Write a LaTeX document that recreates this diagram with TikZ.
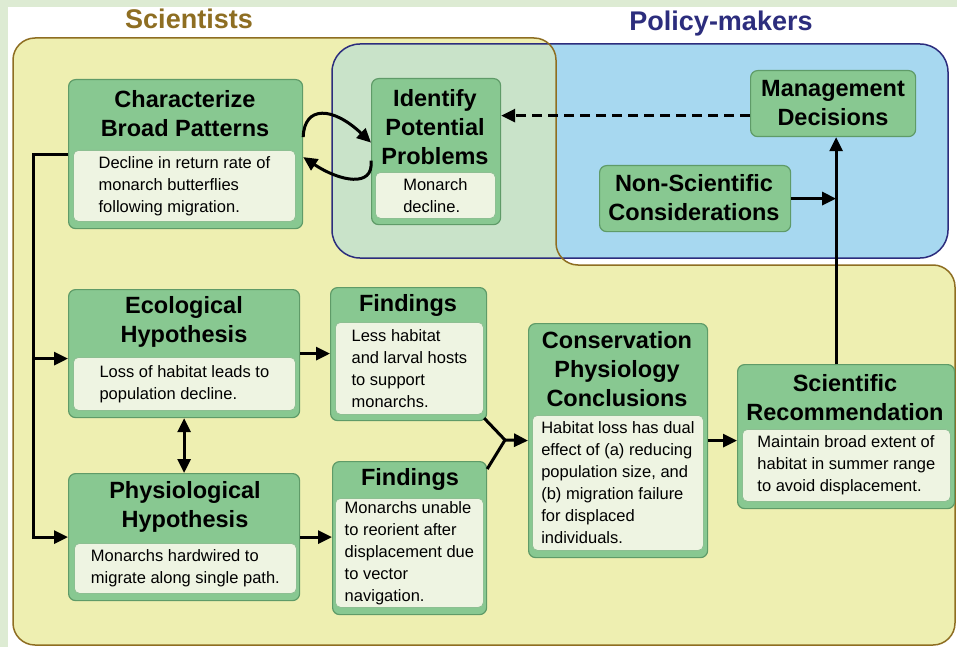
\documentclass[tikz,border=0pt]{standalone}
\usepackage{fontspec}
\setmainfont{Liberation Sans}
\usepackage{tikz}
\usepackage{xcolor}
\usetikzlibrary{arrows.meta}

\definecolor{bgband}{HTML}{DDEBD3}
\definecolor{sciyellow}{HTML}{EEEFB1}
\definecolor{scibrown}{HTML}{8E6E22}
\definecolor{polblue}{HTML}{A7D8F0}
\definecolor{polnavy}{HTML}{2C2D7D}
\definecolor{overlap}{HTML}{C9E3C9}
\definecolor{boxgreen}{HTML}{88C891}
\definecolor{boxedge}{HTML}{5F9B68}
\definecolor{notefill}{HTML}{EEF4E2}
\definecolor{noteedge}{HTML}{8DBF92}

\newcommand{\sciregion}{(13,645) -- (13,38) -- (556,38) -- (556,265) -- (955,265) -- (955,645) -- cycle}
\newcommand{\polregion}{(332,44) rectangle (948,258)}

\begin{document}
\begin{tikzpicture}[x=1pt, y=-1pt, >={Triangle[length=14pt, width=13pt]},
            box/.style={draw=boxedge, fill=boxgreen, line width=1.2pt, rounded corners=7pt, anchor=north west, inner sep=0pt},
            note/.style={draw=noteedge, fill=notefill, line width=0.8pt, rounded corners=5pt, anchor=north west, inner sep=0pt, align=left, font=\fontsize{16.5pt}{22pt}\selectfont},
            title/.style={align=center, inner sep=0pt, font=\fontsize{23.5pt}{29pt}\selectfont\bfseries},
            group/.style={inner sep=0pt, font=\fontsize{27pt}{32pt}\selectfont\bfseries},
            link/.style={line width=3pt}]
            \useasboundingbox (0,0) rectangle (957,647);
            \fill[white] (0,0) rectangle (957,647);
            \fill[bgband] (0,0) rectangle (957,7);
            \fill[bgband] (0,0) rectangle (8,647);

            % the two groups
            \fill[sciyellow, rounded corners=22pt] \sciregion;
            \fill[polblue, rounded corners=28pt] \polregion;
            \begin{scope}
                \clip[rounded corners=22pt] \sciregion;
                \fill[overlap, rounded corners=28pt] \polregion;
            \end{scope}
            \draw[polnavy, line width=1.5pt, rounded corners=28pt] \polregion;
            \draw[scibrown, line width=1.5pt, rounded corners=22pt] \sciregion;
            \node[group, text=scibrown] (SCI) at (189,19) {Scientists};
            \node[group, text=polnavy] (POL) at (721,24) {Policy-makers};

            % boxes
            \node[box, minimum width=234pt, minimum height=149pt] (CBP) at (68,79) {};
            \node[title] (CBPt) at (185,114) {Characterize\\Broad Patterns};
            \node[note, minimum width=222pt, minimum height=71pt] (CBPn) at (73,150) {Decline in return rate of\\monarch butterflies\\following migration.};

            \node[box, minimum width=129pt, minimum height=146pt] (IPP) at (371,78) {};
            \node[title] (IPPt) at (435,127) {Identify\\Potential\\Problems};
            \node[note, minimum width=120pt, minimum height=46pt] (IPPn) at (375,172) {Monarch\\decline.};

            \node[box, minimum width=165pt, minimum height=66pt] (MD) at (750,70) {};
            \node[title] (MDt) at (833,103) {Management\\Decisions};

            \node[box, minimum width=191pt, minimum height=66pt] (NSC) at (599,165) {};
            \node[title] (NSCt) at (694,198) {Non-Scientific\\Considerations};

            \node[box, minimum width=231pt, minimum height=128pt] (EH) at (68,289) {};
            \node[title] (EHt) at (184,322) {Ecological\\Hypothesis};
            \node[note, minimum width=222pt, minimum height=53pt] (EHn) at (73,357) {Loss of habitat leads to\\population decline.};

            \node[box, minimum width=231pt, minimum height=127pt] (PH) at (68,473) {};
            \node[title] (PHt) at (185,507) {Physiological\\Hypothesis};
            \node[note, minimum width=222pt, minimum height=50pt] (PHn) at (74,543) {Monarchs hardwired to\\migrate along single path.};

            \node[box, minimum width=156pt, minimum height=133pt] (F1) at (330,287) {};
            \node[title] (F1t) at (408,305) {Findings};
            \node[note, minimum width=148pt, minimum height=92pt] (F1n) at (335,322) {Less habitat\\and larval hosts\\to support\\monarchs.};

            \node[box, minimum width=154pt, minimum height=153pt] (F2) at (332,461) {};
            \node[title] (F2t) at (410,479) {Findings};
            \node[note, minimum width=148pt, minimum height=109pt] (F2n) at (335,498) {Monarchs unable\\to reorient after\\displacement due\\to vector\\navigation.};

            \node[box, minimum width=179pt, minimum height=234pt] (CPC) at (528,323) {};
            \node[title] (CPCt) at (617,369) {Conservation\\Physiology\\Conclusions};
            \node[note, minimum width=171pt, minimum height=135pt] (CPCn) at (532,415) {Habitat loss has dual\\effect of (a) reducing\\population size, and\\(b) migration failure\\for displaced\\individuals.};

            \node[box, minimum width=217pt, minimum height=144pt] (SR) at (737,364) {};
            \node[title] (SRt) at (845,398) {Scientific\\Recommendation};
            \node[note, minimum width=208pt, minimum height=72pt] (SRn) at (742,429) {Maintain broad extent of\\habitat in summer range\\to avoid displacement.};

            % connectors
            \draw[link, ->] ([yshift=17pt]CBP.east) .. controls +(1,-32) and +(-38,-36) .. ([yshift=9pt]IPP.west);
            \draw[link, ->] ([yshift=-9pt]IPP.west) .. controls +(3,28) and +(36,24) .. ([yshift=-3pt]CBP.east);
            \draw[link, ->, dash pattern=on 10pt off 6pt] ([yshift=-12pt]MD.west) -- ([yshift=-12pt]MD.west -| IPP.east);

            \draw[link, ->] (CBP.west) -- ++(-35,0) |- (PH.west);
            \draw[link, ->] ([yshift=-5pt]EH.west) ++(-35,0) -- ([yshift=-5pt]EH.west);
            \draw[link, <->] (EH.south) -- (PH.north);
            \draw[link, ->] (EH.east) -- (EH.east -| F1.west);
            \draw[link, ->] (PH.east) -- (PH.east -| F2.west);

            \coordinate (J) at (505,440);
            \draw[link] ([shift={(-3pt,3pt)}]F1.south east) -- (J) -- ([shift={(0pt,-8pt)}]F2.north east);
            \draw[link, ->] (J) -- (CPC.west);
            \draw[link, ->] (CPC.east) -- (CPC.east -| SR.west);

            \coordinate (MDin) at ([xshift=3pt]MD.south);
            \draw[link, ->] (SR.north -| MDin) -- (MDin);
            \draw[link, ->] (NSC.east) -- (NSC.east -| MDin);
        \end{tikzpicture}
\end{document}
